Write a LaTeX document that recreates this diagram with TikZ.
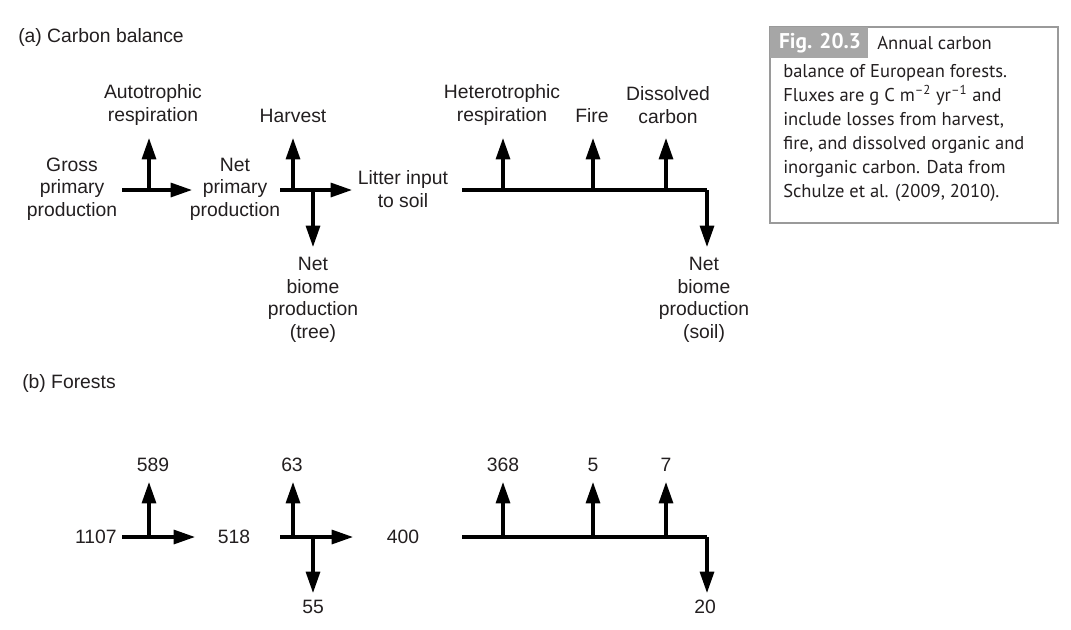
\documentclass[tikz,border=0pt]{standalone}
\usepackage{fontspec}
\setmainfont{Liberation Sans}
\newfontfamily\capfont{PT Sans}
\usetikzlibrary{arrows.meta}
\definecolor{txt}{HTML}{231F20}
\definecolor{boxgray}{HTML}{A6A6A6}
\definecolor{frame}{HTML}{9A9A9A}
\tikzset{
  lbl/.style={font=\fontsize{14.5}{16.9}\selectfont, align=center, inner sep=0pt, text=txt},
  hd/.style={font=\fontsize{14.5}{16.9}\selectfont, anchor=west, inner sep=0pt, text=txt},
  flow/.style={line width=2.3pt, -{Triangle[length=16pt,width=10.5pt]}},
  bar/.style={line width=2.3pt},
  captxt/.style={font=\capfont\fontsize{13.9}{18}\selectfont, inner sep=0pt, text=txt, align=left},
}
\begin{document}
\begin{tikzpicture}[x=0.75pt,y=-0.75pt]
\useasboundingbox (0,0) rectangle (1071,629);
\fill[white] (0,0) rectangle (1071,629);

% ---------- panel (a) ----------
\node[hd] (ha) at (18,37) {(a) Carbon balance};

\node[lbl] (gpp) at (72,189) {Gross\\primary\\production};
\node[lbl] (ar) at (153,105) {Autotrophic\\respiration};
\node[lbl] (npp) at (235,189) {Net\\primary\\production};
\node[lbl] (hv) at (293,116) {Harvest};
\node[lbl] (nbpt) at (313,300) {Net\\biome\\production\\(tree)};
\node[lbl] (lit) at (403,189) {Litter input\\to soil};
\node[lbl] (hr) at (502,105) {Heterotrophic\\respiration};
\node[lbl] (fire) at (592,116) {Fire};
\node[lbl] (dc) at (668,105) {Dissolved\\carbon};
\node[lbl] (nbps) at (704,300) {Net\\biome\\production\\(soil)};

\coordinate (a1s) at (122,190);
\coordinate (a1j) at (149,190);
\coordinate (a1e) at (192,190);
\coordinate (a1u) at (149,138);
\draw[flow] (a1s) -- (a1e);
\draw[flow] (a1j) -- (a1u);

\coordinate (a2s) at (280,190);
\coordinate (a2j) at (293,190);
\coordinate (a2k) at (313,190);
\coordinate (a2e) at (352,190);
\coordinate (a2u) at (293,138);
\coordinate (a2d) at (313,247);
\draw[flow] (a2s) -- (a2e);
\draw[flow] (a2j) -- (a2u);
\draw[flow] (a2k) -- (a2d);

\coordinate (a3s) at (462,190);
\coordinate (a3h) at (503,190);
\coordinate (a3f) at (593,190);
\coordinate (a3c) at (666,190);
\coordinate (a3e) at (707,190);
\coordinate (a3hu) at (503,138);
\coordinate (a3fu) at (593,138);
\coordinate (a3cu) at (666,138);
\coordinate (a3d) at (707,247);
\draw[bar] (a3s) -- (a3e);
\draw[flow] (a3e) -- (a3d);
\draw[flow] (a3h) -- (a3hu);
\draw[flow] (a3f) -- (a3fu);
\draw[flow] (a3c) -- (a3cu);

% ---------- panel (b) ----------
\node[hd] (hb) at (22,383) {(b) Forests};

\node[lbl,anchor=east] (v1107) at (117,537) {1107};
\node[lbl] (v589) at (153,465) {589};
\node[lbl] (v518) at (234,537) {518};
\node[lbl] (v63) at (292,465) {63};
\node[lbl] (v55) at (313,607) {55};
\node[lbl] (v400) at (403,537) {400};
\node[lbl] (v368) at (503,465) {368};
\node[lbl] (v5) at (593,465) {5};
\node[lbl] (v7) at (666,465) {7};
\node[lbl] (v20) at (705,607) {20};

\coordinate (b1s) at (122,537);
\coordinate (b1j) at (149,537);
\coordinate (b1e) at (195,537);
\coordinate (b1u) at (149,482);
\draw[flow] (b1s) -- (b1e);
\draw[flow] (b1j) -- (b1u);

\coordinate (b2s) at (280,537);
\coordinate (b2j) at (293,537);
\coordinate (b2k) at (313,537);
\coordinate (b2e) at (353,537);
\coordinate (b2u) at (293,482);
\coordinate (b2d) at (313,593);
\draw[flow] (b2s) -- (b2e);
\draw[flow] (b2j) -- (b2u);
\draw[flow] (b2k) -- (b2d);

\coordinate (b3s) at (462,537);
\coordinate (b3h) at (503,537);
\coordinate (b3f) at (593,537);
\coordinate (b3c) at (666,537);
\coordinate (b3e) at (707,537);
\coordinate (b3hu) at (503,482);
\coordinate (b3fu) at (593,482);
\coordinate (b3cu) at (666,482);
\coordinate (b3d) at (707,593);
\draw[bar] (b3s) -- (b3e);
\draw[flow] (b3e) -- (b3d);
\draw[flow] (b3h) -- (b3hu);
\draw[flow] (b3f) -- (b3fu);
\draw[flow] (b3c) -- (b3cu);

% ---------- caption box ----------
\draw[frame, line width=1.1pt] (770,27) rectangle (1058,223);
\fill[boxgray] (770,27) rectangle (868,58);
\node[captxt, text=white, font=\capfont\bfseries\fontsize{16}{18}\selectfont] (fig) at (820,43) {Fig. 20.3};
\node[captxt, anchor=west] (c1) at (877,43) {Annual carbon};
\node[captxt, anchor=north west] (c2) at (783,64) {balance of European forests.\\
Fluxes are g C m\textsuperscript{–2} yr\textsuperscript{–1} and\\
include losses from harvest,\\
fire, and dissolved organic and\\
inorganic carbon. Data from\\
Schulze et al. (2009, 2010).};
\end{tikzpicture}
\end{document}
